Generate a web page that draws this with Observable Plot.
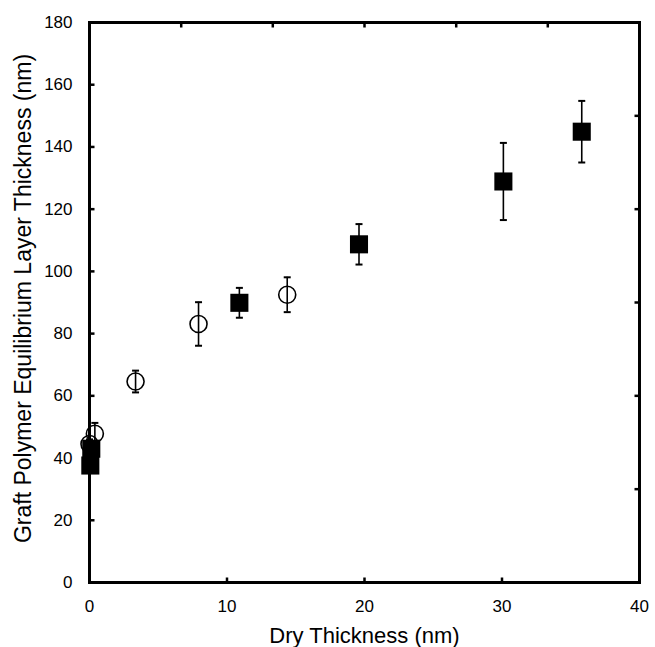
<!DOCTYPE html>
<html><head><meta charset="utf-8">
<script src="https://cdn.jsdelivr.net/npm/d3@7"></script>
<script src="https://cdn.jsdelivr.net/npm/@observablehq/plot@0.6"></script>
<style>body{margin:0;background:#fff;}</style>
</head><body><div id="chart"></div>
<script>
// Filled squares
const squareX = [0.06, 0.13, 10.9, 19.6, 30.1, 35.8];
const squareY = [37.6, 43.0, 89.9, 108.7, 128.9, 144.9];
const squareErr = [1.5, 1.5, 4.8, 6.5, 12.4, 9.9];
// Open circles
const circleX = [0.0, 0.39, 3.35, 7.93, 14.38];
const circleY = [44.5, 47.8, 64.6, 83.1, 92.5];
const circleErr = [1.5, 3.5, 3.5, 7.0, 5.6];

const xTicks = [0, 10, 20, 30, 40];
const yTicks = [0, 20, 40, 60, 80, 100, 120, 140, 160, 180];
const topTicks = [6.67, 13.33, 20, 26.67, 33.33];
const rightTicks = [30, 60, 90, 120, 150];
const xTitle = "Dry Thickness (nm)";
const yTitle = "Graft Polymer Equilibrium Layer Thickness (nm)";

const squares = squareX.map((x, i) => ({x, y: squareY[i], lo: squareY[i] - squareErr[i], hi: squareY[i] + squareErr[i]}));
const circles = circleX.map((x, i) => ({x, y: circleY[i], lo: circleY[i] - circleErr[i], hi: circleY[i] + circleErr[i]}));

const cap = {draw(c) { c.moveTo(-3.5, 0); c.lineTo(3.5, 0); }};
const tRight = {draw(c) { c.moveTo(0, 0); c.lineTo(5, 0); }};
const tLeft = {draw(c) { c.moveTo(0, 0); c.lineTo(-5, 0); }};
const tUp = {draw(c) { c.moveTo(0, 0); c.lineTo(0, -5); }};
const tDown = {draw(c) { c.moveTo(0, 0); c.lineTo(0, 5); }};

const font = "'Liberation Sans', Arial, sans-serif";

const errMarks = (data) => [
  Plot.ruleX(data, {x: "x", y1: "lo", y2: "hi", stroke: "black", strokeWidth: 1.6}),
  Plot.dot(data, {x: "x", y: "lo", symbol: cap, fill: "none", stroke: "black", strokeWidth: 2}),
  Plot.dot(data, {x: "x", y: "hi", symbol: cap, fill: "none", stroke: "black", strokeWidth: 2})
];

const chart = Plot.plot({
  width: 655,
  height: 647,
  marginLeft: 89,
  marginRight: 16,
  marginTop: 22,
  marginBottom: 65,
  style: {fontFamily: font, background: "#fff", color: "black", overflow: "visible"},
  x: {domain: [0, 40]},
  y: {domain: [0, 180]},
  marks: [
    Plot.axisX(xTicks, {tickSize: 0, tickPadding: 17, fontSize: 17, label: null}),
    Plot.axisY(yTicks, {tickSize: 0, tickPadding: 17, fontSize: 17, label: null}),
    Plot.text([xTitle], {frameAnchor: "bottom", dy: 60, fontSize: 22, text: d => d, lineAnchor: "bottom"}),
    Plot.text([yTitle], {frameAnchor: "left", dx: -66, dy: -4, rotate: -90, textAnchor: "middle", fontSize: 23, letterSpacing: 0.5, text: d => d}),
    Plot.dot(yTicks.filter(v => v > 0 && v < 180), {x: () => 0, y: d => d, symbol: tRight, stroke: "black", strokeWidth: 2.5, fill: "none"}),
    Plot.dot(xTicks.filter(v => v > 0 && v < 40), {x: d => d, y: () => 0, symbol: tUp, stroke: "black", strokeWidth: 2.5, fill: "none"}),
    Plot.dot(topTicks, {x: d => d, y: () => 180, symbol: tDown, stroke: "black", strokeWidth: 2.5, fill: "none"}),
    Plot.dot(rightTicks, {x: () => 40, y: d => d, symbol: tLeft, stroke: "black", strokeWidth: 2.5, fill: "none"}),
    Plot.frame({stroke: "black", strokeWidth: 3}),
    ...errMarks(circles),
    Plot.dot(circles, {x: "x", y: "y", r: 8.5, fill: "none", stroke: "black", strokeWidth: 1.6}),
    ...errMarks(squares),
    Plot.dot(squares, {x: "x", y: "y", symbol: "square", r: 10.2, fill: "black", stroke: "none"})
  ]
});
document.getElementById("chart").append(chart);
</script>
</body></html>
